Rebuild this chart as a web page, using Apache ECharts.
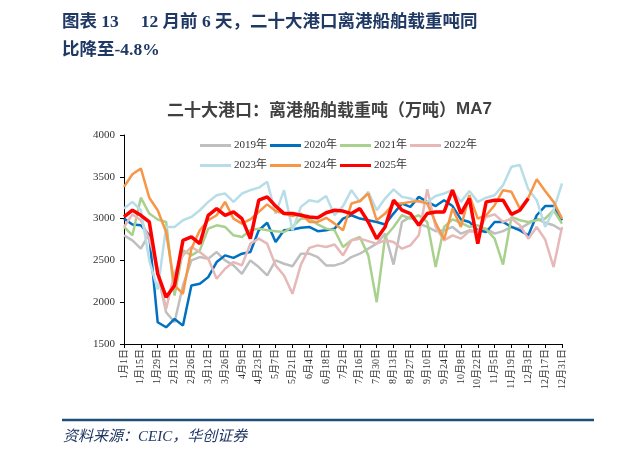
<!DOCTYPE html>
<html>
<head>
<meta charset="utf-8">
<script src="https://cdn.jsdelivr.net/npm/echarts@6/dist/echarts.min.js"></script>
<style>
html, body { margin: 0; padding: 0; background: #fff; }
#port_chart { width: 620px; height: 461px; }
</style>
</head>
<body>
<div id="port_chart"></div>
<script>
var tickLabels = ['1月1日', '1月15日', '1月29日', '2月12日', '2月26日', '3月12日', '3月26日', '4月9日', '4月23日',
    '5月7日', '5月21日', '6月4日', '6月18日', '7月2日', '7月16日', '7月30日', '8月13日', '8月27日', '9月10日',
    '9月24日', '10月8日', '10月22日', '11月5日', '11月19日', '12月3日', '12月17日', '12月31日'];

// 日序号(1月1日=0)
var days = [0, 7, 14, 21, 28, 35, 42, 49, 56, 63, 70, 77, 84, 91, 98, 105, 112, 119, 126, 133, 140, 147,
    154, 161, 168, 175, 182, 189, 196, 203, 210, 217, 224, 231, 238, 245, 252, 259, 266, 273, 280, 287,
    294, 301, 308, 315, 322, 329, 336, 343, 350, 357, 364];

var y2019 = [2800, 2740, 2640, 2820, 2340, 1880, 1760, 2200, 2500, 2540, 2520, 2600, 2500, 2440,
    2340, 2500, 2420, 2320, 2500, 2460, 2430, 2580, 2580, 2540, 2440, 2440, 2470, 2540,
    2580, 2640, 2700, 2820, 2450, 2960, 3020, 2940, 2900, 2850, 2860, 2900, 2820, 2860,
    2840, 2880, 2820, 2850, 2900, 2880, 2940, 3000, 2950, 2920, 2860];
var y2020 = [3000, 2930, 2920, 2800, 1760, 1700, 1800, 1720, 2200, 2220, 2300, 2480, 2560, 2530,
    2580, 2600, 2860, 2950, 2720, 2860, 2870, 2890, 2900, 2850, 2860, 2880, 3000, 3040,
    3000, 2980, 2960, 2930, 3060, 3180, 3140, 3260, 3200, 3150, 3220, 3150, 2990, 2960,
    2860, 2840, 2960, 2960, 2900, 2860, 2800, 3040, 3150, 3150, 2980];
var y2021 = [2900, 2800, 3250, 3060, 2990, 2960, 2080, 2620, 2560, 2620, 2880, 2920, 2900, 2800,
    2780, 2860, 2880, 2860, 2850, 2840, 2900, 3000, 3000, 2930, 2880, 2860, 2660, 2740,
    2780, 2560, 2000, 2780, 2900, 3040, 3000, 3040, 2960, 2420, 2900, 2990, 2950, 2900,
    2920, 2870, 2760, 2450, 3020, 2980, 2960, 2980, 3000, 3100, 2940];
var y2022 = [2900, 3050, 2980, 2760, 2400, 1920, 2350, 2560, 2660, 2600, 2520, 2280, 2400, 2480,
    2440, 2700, 2760, 2700, 2440, 2320, 2100, 2450, 2650, 2680, 2660, 2690, 2560, 2740,
    2760, 2730, 2700, 2740, 2720, 2640, 2680, 2800, 3350, 2900, 2740, 2800, 2760, 2850,
    2840, 3020, 3050, 2960, 3000, 2920, 2760, 2900, 2750, 2420, 2900];
var y2023 = [3120, 3200, 3100, 2500, 2150, 2900, 2900, 2980, 3020, 3100, 3200, 3280, 3300, 3200,
    3300, 3340, 3370, 3440, 3060, 3340, 2860, 3140, 3220, 3200, 3270, 3040, 3150, 3340,
    3200, 3320, 3100, 3240, 3350, 3260, 3240, 3200, 3200, 3270, 3300, 3340, 3200, 3330,
    3200, 3250, 3280, 3400, 3620, 3640, 3350, 3220, 2900, 3100, 3420];
var y2024 = [3380, 3530, 3600, 3250, 3100, 2840, 2200, 2100, 2640, 2860, 2980, 3040, 3200, 3000,
    2940, 2990, 3080, 3170, 3090, 3060, 3030, 3060, 2960, 2960, 3010, 2940, 2860, 3180,
    3210, 3300, 2980, 3060, 3180, 3180, 3200, 3210, 3180, 2950, 2750, 3120, 2900, 3280,
    3000, 3040, 3160, 3340, 3320, 3120, 3250, 3470, 3330, 3200, 3000];
var y2025 = [3020, 3100, 3040, 2960, 2340, 2060, 2200, 2740, 2780, 2700, 3040, 3120, 3040, 3080,
    3000, 2760, 3220, 3260, 3150, 3060, 3060, 3040, 3020, 3010, 3070, 3100, 3090, 3060,
    3120, 2960, 2760, 2900, 3220, 3100, 3060, 2920, 3060, 3080, 3080, 3340, 3060, 3240,
    2700, 3200, 3220, 3220, 3050, 3100, 3240];

var seriesNames = ['2019年', '2020年', '2021年', '2022年', '2023年', '2024年', '2025年'];
var seriesValues = [y2019, y2020, y2021, y2022, y2023, y2024, y2025];
var seriesColors = ['#BFBFBF', '#0070C0', '#A9D18E', '#E6B9B8', '#B7DEE8', '#F79646', '#FF0000'];
var seriesWidths = [2.5, 2.5, 2.5, 2.5, 2.5, 2.5, 3.5];

var serifFont = '"Liberation Serif", "Noto Sans CJK SC", serif';
var cjkFont = '"Noto Sans CJK SC", sans-serif';

function toPairs(arr) {
    var out = [];
    arr.forEach(function (v, i) {
        out.push([days[i], v]);
    });
    return out;
}

var port_chart = document.getElementById('port_chart');
var port_myChart = echarts.init(port_chart);

var data = seriesNames.map(function (name, i) {
    return {
        name: name,
        type: 'line',
        data: toPairs(seriesValues[i]),
        showSymbol: false,
        symbol: 'none',
        animation: false,
        z: 2 + i,
        lineStyle: { color: seriesColors[i], width: seriesWidths[i] },
        itemStyle: { color: seriesColors[i] }
    };
});

var legendBase = {
    orient: 'horizontal',
    icon: 'rect',
    itemWidth: 31,
    itemHeight: 3,
    itemGap: 3,
    textStyle: { fontSize: 11, color: '#333', fontFamily: serifFont, padding: [0, 0, 0, -2] }
};

option = {
    backgroundColor: '#fff',
    title: [
        {
            text: '图表 13　 12 月前 6 天，二十大港口离港船舶载重吨同\n比降至-4.8%',
            left: 62,
            top: 8,
            padding: 0,
            textStyle: {
                fontSize: 17.5,
                fontWeight: 'bold',
                color: '#1F3864',
                fontFamily: '"Liberation Serif", "Noto Sans CJK SC", serif',
                lineHeight: 28
            }
        },
        {
            text: '{a|二十大港口：离港船舶载重吨（万吨）}{b|MA7}',
            left: 167,
            top: 101,
            padding: 0,
            textStyle: {
                rich: {
                    a: { fontSize: 17, color: '#404040', fontFamily: cjkFont },
                    b: { fontSize: 17, color: '#404040', fontWeight: 'bold', fontFamily: '"Liberation Sans", sans-serif' }
                }
            }
        },
        {
            text: '资料来源：CEIC，华创证券',
            left: 63,
            top: 430,
            padding: 0,
            textStyle: {
                fontSize: 15,
                fontStyle: 'italic',
                fontWeight: 'normal',
                color: '#1F3864',
                fontFamily: serifFont
            }
        }
    ],
    graphic: [
        {
            type: 'line',
            shape: { x1: 62, y1: 420, x2: 594, y2: 420 },
            style: { stroke: '#1F4E79', lineWidth: 2.5 }
        }
    ],
    legend: [
        Object.assign({ left: 195, top: 135, data: seriesNames.slice(0, 4) }, legendBase),
        Object.assign({ left: 195, top: 155, data: seriesNames.slice(4) }, legendBase)
    ],
    grid: {
        left: 124,
        right: 58,
        top: 135,
        bottom: 117
    },
    xAxis: {
        type: 'value',
        min: 0,
        max: 364,
        interval: 14,
        axisLine: { show: true, lineStyle: { color: '#000', width: 1 } },
        axisTick: { show: true, length: 4, lineStyle: { color: '#000' } },
        splitLine: { show: false },
        axisLabel: {
            rotate: 90,
            margin: 5,
            fontSize: 10,
            color: '#333',
            fontFamily: serifFont,
            formatter: function (value) {
                return tickLabels[Math.round(value / 14)] || '';
            }
        }
    },
    yAxis: {
        type: 'value',
        min: 1500,
        max: 4000,
        interval: 500,
        axisLine: { show: true, lineStyle: { color: '#000', width: 1 } },
        axisTick: { show: true, length: 4, lineStyle: { color: '#000' } },
        splitLine: { show: false },
        axisLabel: {
            margin: 9,
            fontSize: 11,
            color: '#333',
            fontFamily: serifFont,
            formatter: function (value) {
                return String(value);
            }
        }
    },
    series: data
};

option && port_myChart.setOption(option);
</script>
</body>
</html>
